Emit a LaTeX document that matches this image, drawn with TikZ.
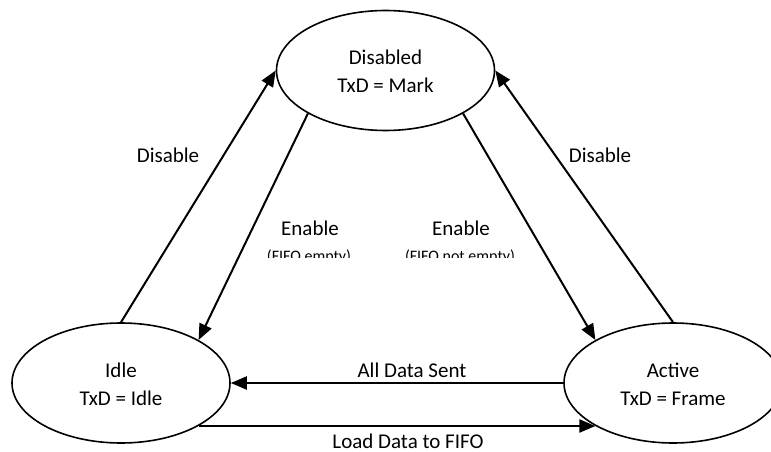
\documentclass[tikz,border=0pt]{standalone}
\usepackage{fontspec}
\setmainfont{Carlito}
\usetikzlibrary{arrows.meta,shapes.geometric}

\tikzset{
  state/.style={ellipse, draw, line width=1.6pt, minimum width=218pt,
    minimum height=120pt, inner sep=0pt, align=center,
    font=\fontsize{21}{28}\selectfont},
  trans/.style={line width=2pt, -{Triangle[length=16pt,width=13pt]}},
  lbl/.style={anchor=base, inner sep=0pt, font=\fontsize{21}{28}\selectfont},
  cond/.style={anchor=base, inner sep=0pt, font=\fontsize{16}{20}\selectfont}
}

\begin{document}
\begin{tikzpicture}[x=1pt, y=-1pt]
  \clip (0,0) rectangle (771,452);

  % states
  \node[state] (disabled) at (385.5,70.5) {\rule{0pt}{17pt}Disabled\\TxD = Mark};
  \node[state] (idle)     at (121,383)    {\rule{0pt}{17pt}Idle\\TxD = Idle};
  \node[state] (active)   at (673,383)    {\rule{0pt}{17pt}Active\\TxD = Frame};

  % transitions
  \draw[trans] (idle.north)    -- (disabled.west);
  \draw[trans] (disabled.209)  -- (idle.29);
  \draw[trans] (disabled.331)  -- (active.151);
  \draw[trans] (active.north)  -- (disabled.east);
  \draw[trans] (active.west)   -- (idle.east);
  \draw[trans] (idle.-29)      -- (active.209);

  % transition labels
  \node[lbl] (dis1) at (168,162) {Disable};
  \node[lbl] (dis2) at (600,162) {Disable};
  \node[lbl] (en1)  at (310,235) {Enable};
  \node[lbl] (en2)  at (461,235) {Enable};
  \node[lbl] (sent) at (412,377) {All Data Sent};
  \node[lbl] (load) at (408,448) {Load Data to FIFO};

  % guard conditions, cut off below
  \begin{scope}
    \clip (0,0) rectangle (771,257);
    \node[cond] (c1) at (309,261) {(FIFO empty)};
    \node[cond] (c2) at (460,261) {(FIFO not empty)};
  \end{scope}
\end{tikzpicture}
\end{document}
